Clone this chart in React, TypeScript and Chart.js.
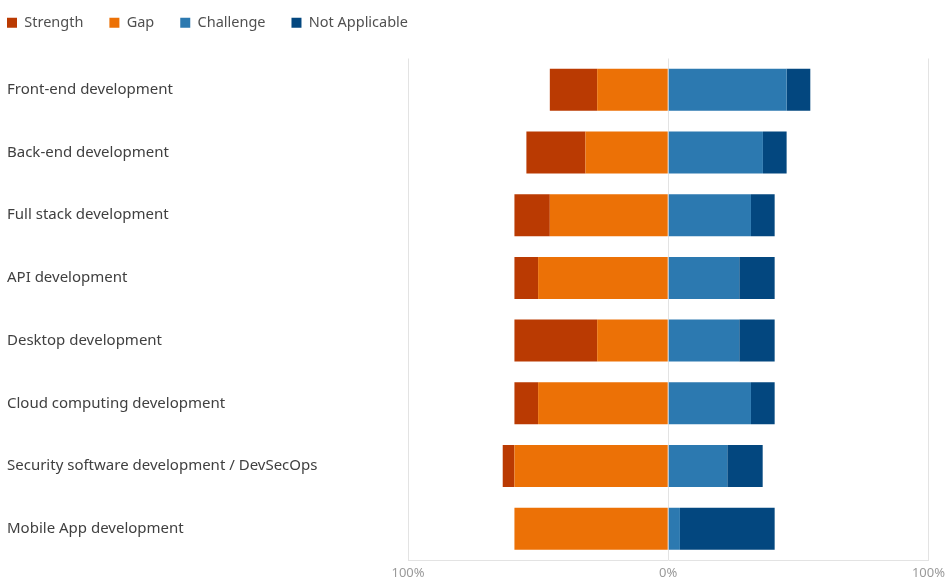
import React, { useEffect, useRef } from "react";
import { Chart, registerables } from "chart.js";

Chart.register(...registerables);

const categories = [
  "Front-end development",
  "Back-end development",
  "Full stack development",
  "API development",
  "Desktop development",
  "Cloud computing development",
  "Security software development / DevSecOps",
  "Mobile App development",
];

// percent of respondents; Strength and Gap are drawn to the left of 0
const strength = [18.2, 22.7, 13.6, 9.1, 31.8, 9.1, 4.5, 0];
const gap = [27.3, 31.8, 45.5, 50.0, 27.3, 50.0, 59.1, 59.1];
const challenge = [45.5, 36.4, 31.8, 27.3, 27.3, 31.8, 22.7, 4.5];
const notApplicable = [9.1, 9.1, 9.1, 13.6, 13.6, 9.1, 13.6, 36.4];

const xTicks = [-100, 0, 100];

const FONT = "'Noto Sans', 'Open Sans', sans-serif";

const legendShift = {
  id: "legendShift",
  afterLayout(chart: any) {
    const lg = chart.legend;
    if (!lg) return;
    const pad = lg.options.labels.padding;
    lg.left = 7 - pad;
    lg.top = 22.5 - 7 - pad;
  },
};

export default function App() {
  const ref = useRef<HTMLCanvasElement | null>(null);

  useEffect(() => {
    if (!ref.current) return;
    const ds = (label: string, data: number[], color: string, order: number, neg: boolean) => ({
      label,
      data: data.map((v) => (neg ? -v : v)),
      backgroundColor: color,
      borderWidth: 0,
      order,
      barPercentage: 0.67,
      categoryPercentage: 1,
    });
    const chart = new Chart(ref.current, {
      type: "bar",
      data: {
        labels: categories,
        datasets: [
          ds("Strength", strength, "#BA3A02", 1, true),
          ds("Gap", gap, "#EC7106", 0, true),
          ds("Challenge", challenge, "#2C79B0", 0, false),
          ds("Not Applicable", notApplicable, "#03477F", 0, false),
        ],
      },
      options: {
        indexAxis: "y",
        animation: false,
        responsive: false,
        maintainAspectRatio: false,
        layout: { padding: { left: 7, right: 20, top: 8, bottom: 0 } },
        plugins: {
          legend: {
            position: "top",
            align: "start",
            labels: {
              boxWidth: 10,
              boxHeight: 10,
              padding: 26,
              color: "#505050",
              font: { family: FONT, size: 14.5 },
              sort: (a: any, b: any) => a.datasetIndex - b.datasetIndex,
            },
          },
          tooltip: { enabled: false },
        },
        scales: {
          x: {
            stacked: true,
            min: -100,
            max: 100,
            afterBuildTicks: (scale: any) => {
              scale.ticks = xTicks.map((v) => ({ value: v }));
            },
            afterFit: (scale: any) => {
              scale.height = 21;
            },
            ticks: {
              callback: (v: any) => Math.abs(Number(v)) + "%",
              color: "#9a9a9a",
              font: { family: FONT, size: 13 },
              padding: 5,
              maxRotation: 0,
            },
            grid: { color: "#e3e3e3", drawTicks: false, lineWidth: 1 },
            border: { display: true, color: "#e3e3e3" },
          },
          y: {
            stacked: true,
            afterFit: (scale: any) => {
              scale.width = 401;
            },
            ticks: {
              crossAlign: "far",
              color: "#404040",
              font: { family: FONT, size: 15 },
            },
            grid: { display: false, drawTicks: false },
            border: { display: false },
          },
        },
      },
      plugins: [legendShift],
    } as any);
    return () => chart.destroy();
  }, []);

  return (
    <div style={{ position: "fixed", left: 0, top: 0, width: 950, height: 581, background: "#fff" }}>
      <canvas ref={ref} width={950} height={581} style={{ display: "block" }} />
    </div>
  );
}
